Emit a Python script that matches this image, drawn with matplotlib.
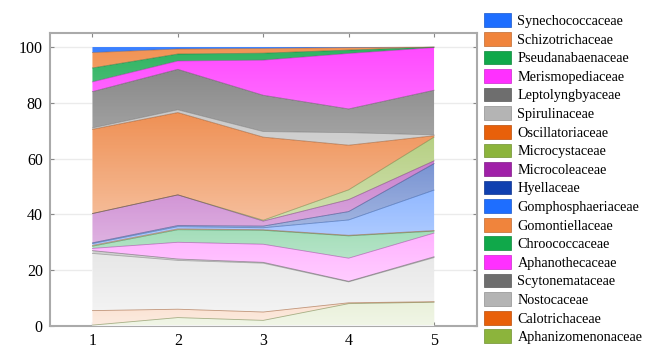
import numpy as np
import matplotlib.pyplot as plt
from matplotlib.colors import to_rgb
from matplotlib.patches import Patch

plt.rcParams['font.family'] = ['Liberation Serif', 'DejaVu Serif']

x = [1, 2, 3, 4, 5]

# legend order (top of stack first)
families = ['Synechococcaceae', 'Schizotrichaceae', 'Pseudanabaenaceae', 'Merismopediaceae',
            'Leptolyngbyaceae', 'Spirulinaceae', 'Oscillatoriaceae', 'Microcystaceae',
            'Microcoleaceae', 'Hyellaceae', 'Gomphosphaeriaceae', 'Gomontiellaceae',
            'Chroococcaceae', 'Aphanothecaceae', 'Scytonemataceae', 'Nostocaceae',
            'Calotrichaceae', 'Aphanizomenonaceae']

colors = ['#1E6EFF', '#F0843C', '#10A84A', '#FF30FF', '#6E6E6E', '#B4B4B4',
          '#E8600A', '#8CB43C', '#A020A8', '#1040B0', '#1E6EFF', '#F0843C',
          '#10A84A', '#FF30FF', '#6E6E6E', '#B4B4B4', '#E8600A', '#8CB43C']

# relative abundance (%) per sample, same order as families
Synechococcaceae   = [2.0, 0.7, 0.5, 0.2, 0.0]
Schizotrichaceae   = [5.5, 1.8, 1.7, 0.9, 0.0]
Pseudanabaenaceae  = [5.0, 2.5, 2.5, 1.2, 0.2]
Merismopediaceae   = [3.5, 3.0, 12.6, 19.9, 15.3]
Leptolyngbyaceae   = [13.0, 14.5, 13.0, 8.5, 16.0]
Spirulinaceae      = [0.5, 1.0, 2.0, 4.5, 0.3]
Oscillatoriaceae   = [30.2, 29.5, 29.8, 16.0, 0.5]
Microcystaceae     = [0.0, 0.0, 0.3, 3.5, 8.5]
Microcoleaceae     = [10.5, 11.0, 1.8, 4.3, 1.0]
Hyellaceae         = [0.3, 0.4, 0.6, 3.0, 9.5]
Gomphosphaeriaceae = [0.6, 0.8, 0.7, 5.5, 14.5]
Gomontiellaceae    = [0.3, 0.3, 0.2, 0.2, 0.2]
Chroococcaceae     = [0.8, 4.5, 5.0, 8.0, 0.7]
Aphanothecaceae    = [0.8, 6.0, 6.5, 8.3, 8.5]
Scytonemataceae    = [1.0, 0.5, 0.3, 0.2, 0.3]
Nostocaceae        = [20.5, 17.5, 17.5, 7.5, 15.8]
Calotrichaceae     = [5.2, 3.0, 3.0, 0.3, 0.2]
Aphanizomenonaceae = [0.3, 3.0, 2.0, 8.0, 8.5]

values = [Synechococcaceae, Schizotrichaceae, Pseudanabaenaceae, Merismopediaceae,
          Leptolyngbyaceae, Spirulinaceae, Oscillatoriaceae, Microcystaceae,
          Microcoleaceae, Hyellaceae, Gomphosphaeriaceae, Gomontiellaceae,
          Chroococcaceae, Aphanothecaceae, Scytonemataceae, Nostocaceae,
          Calotrichaceae, Aphanizomenonaceae]

fig = plt.figure(figsize=(6.46, 3.52), dpi=100)
ax = fig.add_axes([0.077, 0.074, 0.661, 0.832])

# stack from the bottom (last legend entry) upwards
bottom = np.zeros(len(x))
tops = []
for name, c, v in zip(families[::-1], colors[::-1], values[::-1]):
    top = bottom + np.array(v)
    ax.fill_between(x, bottom, top, facecolor=c, edgecolor='none', zorder=2)
    tops.append((top, c))
    bottom = top

# white vertical fade: colours get paler towards the bottom
yy = np.linspace(0, 100, 200)[:, None]
alpha = 1 - (0.12 + 0.75 * yy / 100)
fade = np.ones((200, 2, 4))
fade[:, :, 3] = alpha
ax.imshow(fade, extent=[1, 5, 0, 100], origin='lower', aspect='auto',
          interpolation='bilinear', zorder=3)

for top, c in tops[:-1]:
    dark = tuple(np.array(to_rgb(c)) * 0.6)
    ax.plot(x, top, color=dark, lw=0.6, alpha=0.5, zorder=4)

ax.set_xlim(0.5, 5.5)
ax.set_ylim(0, 105)
ax.set_xticks(x)
ax.set_yticks([0, 20, 40, 60, 80, 100])
ax.yaxis.grid(True, color='#EBEBEB', lw=1.0)
ax.set_axisbelow(True)
ax.tick_params(direction='in', length=3, width=0.8, color='#888888',
               labelsize=11.5, top=True, right=True, pad=5)
for s in ax.spines.values():
    s.set_color('#AAAAAA')
    s.set_linewidth(1.5)

handles = [Patch(facecolor=c, edgecolor=tuple(np.array(to_rgb(c)) * 0.8), lw=0.5)
           for c in colors]
fig.legend(handles, families, loc='upper left', bbox_to_anchor=(0.749, 0.962),
           frameon=False, fontsize=10.3, handlelength=1.9, handleheight=1.1,
           labelspacing=0.27, handletextpad=0.45, borderpad=0, borderaxespad=0)

fig.savefig('out.png', dpi=100)
